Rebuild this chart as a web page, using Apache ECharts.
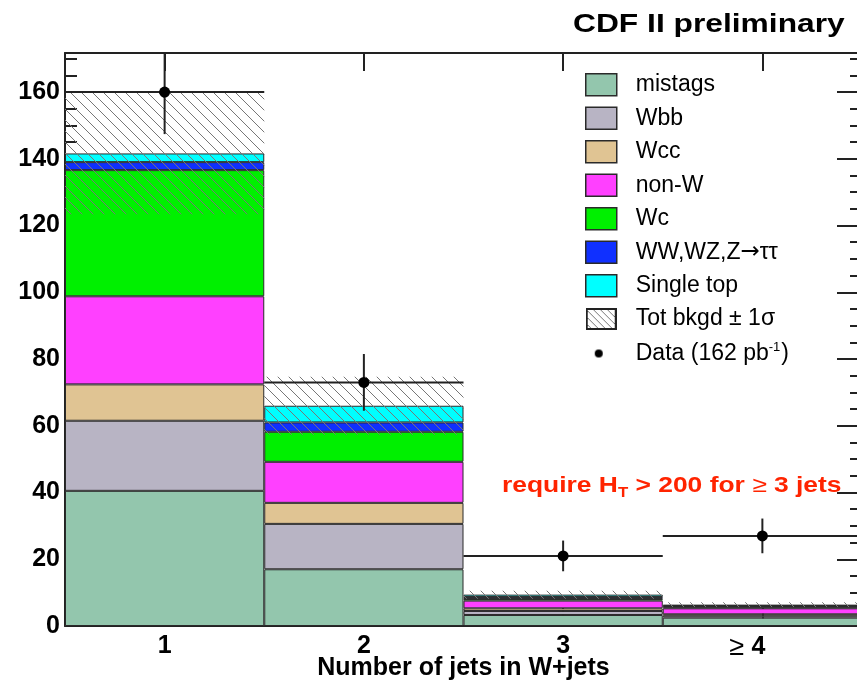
<!DOCTYPE html>
<html><head><meta charset="utf-8">
<script src="https://cdn.jsdelivr.net/npm/echarts@6/dist/echarts.min.js"></script>
<style>html,body{margin:0;padding:0;background:#fff}#c{width:857px;height:686px}</style>
</head><body><div id="c"></div>
<script>
// ---- data ----
const categories = ['1', '2', '3', '≥ 4'];
const mistags   = [40.5, 17.0, 3.3, 2.5];
const wbb       = [21.0, 13.6, 1.2, 0.6];
const wcc       = [10.9, 6.3, 0.8, 0.4];
const nonW      = [26.4, 12.3, 2.3, 1.8];
const wc        = [37.8, 9.0, 0.5, 0.3];
const diboson   = [2.4, 2.8, 0.6, 0.4];
const singleTop = [2.6, 5.0, 0.7, 0.4];
const bkgSigma  = [18.2, 8.7, 1.2, 0.7];
const dataCounts = [160, 73, 21, 27];
const dataErr    = [12.6, 8.5, 4.6, 5.2];
const yMin = 0, yMax = 171.7, yInterval = 20;

const FONT = '"Liberation Sans", Arial, Helvetica, sans-serif';
const components = [
  { name: 'mistags', values: mistags, color: '#93c6ad' },
  { name: 'Wbb', values: wbb, color: '#b8b4c4' },
  { name: 'Wcc', values: wcc, color: '#e0c493' },
  { name: 'non-W', values: nonW, color: '#ff40ff' },
  { name: 'Wc', values: wc, color: '#00f000' },
  { name: 'WW,WZ,Z→ττ', values: diboson, color: '#1030ff' },
  { name: 'Single top', values: singleTop, color: '#00ffff' }
];
const totals = categories.map((_, i) => components.reduce((s, c) => s + c.values[i], 0));

// hatch pattern tile
function hatchCanvas(w, h, step, withBox) {
  const cv = document.createElement('canvas');
  cv.width = w; cv.height = h;
  const g = cv.getContext('2d');
  if (withBox) { g.fillStyle = '#fff'; g.fillRect(0, 0, w, h); }
  g.strokeStyle = '#777'; g.lineWidth = 1;
  for (let k = -h - step; k < w + step; k += step) {
    g.beginPath(); g.moveTo(k - 1, -1); g.lineTo(k + h + 1, h + 1); g.stroke();
  }
  if (withBox) { g.strokeStyle = '#222'; g.lineWidth = 2; g.strokeRect(1, 1, w - 2, h - 2); }
  return cv;
}
const tile = hatchCanvas(11, 11, 11, false);
const hatchPattern = { image: tile, repeat: 'repeat' };
const hatchIcon = 'image://' + hatchCanvas(31, 22, 7, true).toDataURL();
const dotIcon = (function () {
  const cv = document.createElement('canvas'); cv.width = 31; cv.height = 22;
  const g = cv.getContext('2d'); g.fillStyle = '#000';
  g.beginPath(); g.arc(13, 11, 4, 0, Math.PI * 2); g.fill();
  return 'image://' + cv.toDataURL();
})();

const barSeries = components.map(c => ({
  name: c.name, type: 'bar', stack: 'bkg', barWidth: '100%',
  data: c.values,
  itemStyle: { color: c.color, borderColor: '#2a2a2a', borderWidth: 1 },
  emphasis: { disabled: true }, z: 2
}));

const DATA_NAME = 'Data (162 pb-1)';
const BAND_NAME = 'Tot bkgd ± 1σ';
const axisLineStyle = { color: '#222', width: 2 };

const chart = echarts.init(document.getElementById('c'));
chart.setOption({
  animation: false,
  backgroundColor: '#fff',
  grid: { left: 65, top: 53, bottom: 60, right: -5, containLabel: false, outerBoundsMode: 'none' },
  xAxis: [{
    type: 'category', data: categories, position: 'bottom',
    axisLine: { show: true, onZero: false, lineStyle: axisLineStyle },
    axisTick: { show: true, inside: true, alignWithLabel: true, interval: 0, length: 18, lineStyle: axisLineStyle },
    axisLabel: {
      interval: 0, hideOverlap: false,
      margin: 8, color: '#000', fontFamily: FONT, fontWeight: 'bold', fontSize: 25,
      formatter: v => v === '≥ 4' ? '{g|≥ }{b|4}{p|}' : '{b|' + v + '}',
      rich: {
        b: { fontFamily: FONT, fontWeight: 'bold', fontSize: 25, color: '#000' },
        g: { fontFamily: FONT, fontWeight: 'normal', fontSize: 27, color: '#000' },
        p: { width: 30 }
      }
    },
    splitLine: { show: false },
    name: 'Number of jets in W+jets', nameLocation: 'middle', nameGap: 30, nameMoveOverlap: false,
    nameTextStyle: { fontFamily: FONT, fontWeight: 'bold', fontSize: 25, color: '#000', verticalAlign: 'top' }
  }, {
    type: 'category', data: categories, position: 'top',
    axisLine: { show: true, onZero: false, lineStyle: axisLineStyle },
    axisTick: { show: true, inside: true, alignWithLabel: true, interval: 0, length: 18, lineStyle: axisLineStyle },
    axisLabel: { show: false }, splitLine: { show: false }
  }],
  yAxis: [{
    type: 'value', min: yMin, max: yMax, interval: yInterval, position: 'left',
    axisLine: { show: true, onZero: false, lineStyle: axisLineStyle },
    axisTick: { show: true, inside: true, length: 25, lineStyle: axisLineStyle },
    minorTick: { show: true, splitNumber: 4, length: 12, lineStyle: axisLineStyle },
    axisLabel: {
      margin: 5, color: '#000', fontFamily: FONT, fontWeight: 'bold', fontSize: 25,
      showMaxLabel: false,
      formatter: v => (Math.abs(v % yInterval) < 1e-6 ? String(v) : '')
    },
    splitLine: { show: false }
  }, {
    type: 'value', min: yMin, max: yMax, interval: yInterval, position: 'right',
    axisLine: { show: true, onZero: false, lineStyle: axisLineStyle },
    axisTick: { show: true, inside: true, length: 25, lineStyle: axisLineStyle },
    minorTick: { show: true, splitNumber: 4, length: 12, lineStyle: axisLineStyle },
    axisLabel: { show: false }, splitLine: { show: false }
  }],
  legend: {
    orient: 'vertical', left: 580, top: 68, itemWidth: 31, itemHeight: 22, itemGap: 10,
    selectedMode: false,
    itemStyle: { borderColor: '#2a2a2a', borderWidth: 1.5 },
    textStyle: {
      fontFamily: FONT, fontSize: 23, color: '#000', padding: [0, 0, 0, 14],
      rich: {
        t: { fontFamily: FONT, fontSize: 23, color: '#000', lineHeight: 26 },
        a: { fontFamily: '"DejaVu Sans"', fontSize: 23, color: '#000', lineHeight: 26 },
        sup: { fontFamily: FONT, fontSize: 13, color: '#000', verticalAlign: 'top', lineHeight: 26, padding: [0, 1, 10, 0] }
      }
    },
    formatter: n => {
      if (n === DATA_NAME) return '{t|Data (162 pb}{sup|-1}{t|)}';
      if (n.indexOf('→') >= 0) { const p = n.split('→'); return '{t|' + p[0] + '}{a|→}{t|' + p[1] + '}'; }
      return n;
    },
    data: components.map(c => ({ name: c.name, icon: 'rect' }))
      .concat([{ name: BAND_NAME, icon: hatchIcon }, { name: DATA_NAME, icon: dotIcon }])
  },
  graphic: [
    { type: 'text', x: 573, y: 25, scaleX: 1.27, z: 10,
      style: { text: 'CDF II preliminary', font: 'bold 25px ' + FONT, fill: '#000', textAlign: 'left', textVerticalAlign: 'middle' } },
    { type: 'text', x: 502, y: 486, scaleX: 1.2, z: 10,
      style: {
        text: '{n|require H}{s|T}{n| > 200 for }{g|≥}{n| 3 jets}',
        fill: '#ff2400', textAlign: 'left', textVerticalAlign: 'middle',
        rich: {
          n: { font: 'bold 22px ' + FONT, fill: '#ff2400' },
          s: { font: 'bold 14px ' + FONT, fill: '#ff2400', padding: [14, 0, 0, 0] },
          g: { font: '22px ' + FONT, fill: '#ff2400' }
        }
      } }
  ],
  series: barSeries.concat([
    {
      name: BAND_NAME, type: 'custom', z: 5, silent: true,
      itemStyle: { color: '#888' },
      data: categories.map((_, i) => [i, totals[i] - bkgSigma[i], totals[i] + bkgSigma[i]]),
      encode: { x: 0, y: [1, 2] },
      renderItem: (params, api) => {
        const i = api.value(0);
        const lo = api.coord([i, api.value(1)]);
        const hi = api.coord([i, api.value(2)]);
        const w = api.size([1, 0])[0];
        return { type: 'rect', shape: { x: lo[0] - w / 2, y: hi[1], width: w, height: lo[1] - hi[1] },
          style: { fill: hatchPattern, stroke: null } };
      }
    },
    {
      name: DATA_NAME, type: 'custom', z: 8, silent: true, clip: true,
      itemStyle: { color: '#000' },
      data: categories.map((_, i) => [i, dataCounts[i], dataErr[i]]),
      encode: { x: 0, y: 1 },
      renderItem: (params, api) => {
        const i = api.value(0), v = api.value(1), e = api.value(2);
        const c = api.coord([i, v]);
        const t = api.coord([i, v + e]);
        const b = api.coord([i, v - e]);
        const w = api.size([1, 0])[0];
        return { type: 'group', children: [
          { type: 'line', shape: { x1: c[0] - w / 2, y1: c[1], x2: c[0] + w / 2, y2: c[1] }, style: { stroke: '#222', lineWidth: 2 } },
          { type: 'line', shape: { x1: c[0], y1: t[1], x2: c[0], y2: b[1] }, style: { stroke: '#222', lineWidth: 2 } },
          { type: 'circle', shape: { cx: c[0], cy: c[1], r: 5.5 }, style: { fill: '#000' } }
        ] };
      }
    }
  ])
});
</script></body></html>
